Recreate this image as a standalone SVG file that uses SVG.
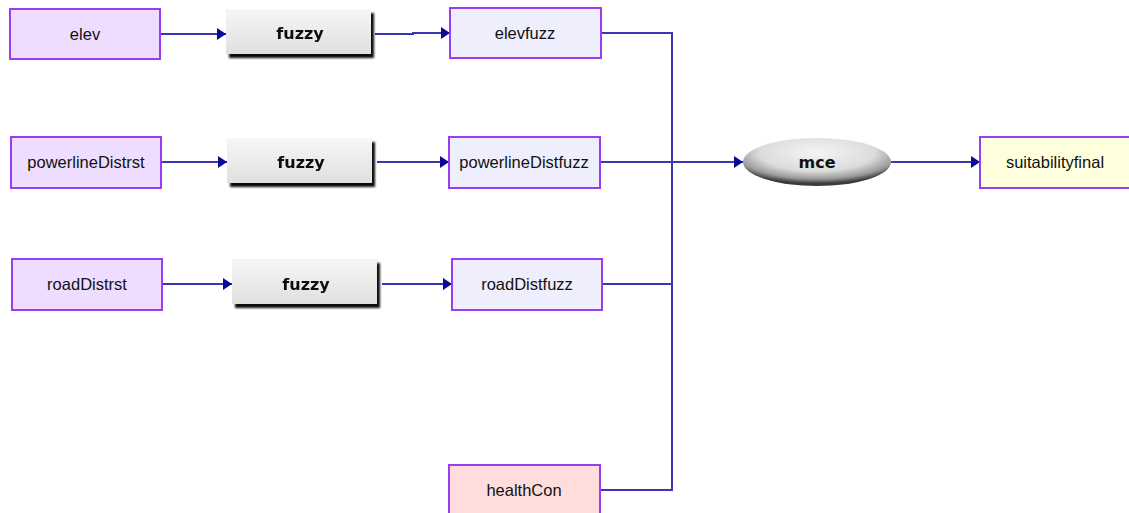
<svg xmlns="http://www.w3.org/2000/svg" width="1129" height="513" viewBox="0 0 1129 513">
  <style>
    .raster { stroke: #9a3cf0; stroke-width: 2; }
    .input { fill: #eeddff; }
    .derived { fill: #eeeefc; }
    .health { fill: #ffdddd; }
    .final { fill: #ffffdd; }
    .label { font-family: "Liberation Sans", Arial, sans-serif; font-size: 16.5px; fill: #111; text-anchor: middle; dominant-baseline: central; }
    .tool { font-family: "DejaVu Sans", "Liberation Sans", sans-serif; font-weight: bold; font-size: 16px; fill: #111; text-anchor: middle; dominant-baseline: central; }
    .wire { fill: none; stroke: #3a36b4; stroke-width: 2; }
  </style>
  <defs>
    <marker id="arrow" markerUnits="userSpaceOnUse" markerWidth="10" markerHeight="12" viewBox="0 0 10 12" refX="9" refY="6" orient="auto">
      <path d="M0,0 L9,6 L0,12 Z" fill="#0a0a96"/>
    </marker>
    <linearGradient id="btnFace" x1="0" y1="0" x2="0" y2="1">
      <stop offset="0" stop-color="#f6f6f6"/>
      <stop offset="1" stop-color="#e0e0e0"/>
    </linearGradient>
    <filter id="btnShadow" x="-10%" y="-20%" width="130%" height="160%">
      <feGaussianBlur in="SourceAlpha" stdDeviation="1.3"/>
      <feOffset dx="3" dy="4" result="off"/>
      <feComponentTransfer><feFuncA type="linear" slope="0.95"/></feComponentTransfer>
      <feMerge><feMergeNode/><feMergeNode in="SourceGraphic"/></feMerge>
    </filter>
    <radialGradient id="ovalFace" cx="0.5" cy="0.3" r="0.65">
      <stop offset="0" stop-color="#f4f4f4"/>
      <stop offset="0.6" stop-color="#dcdcdc"/>
      <stop offset="0.85" stop-color="#9a9a9a"/>
      <stop offset="1" stop-color="#3a3a3a"/>
    </radialGradient>
  </defs>

  <g id="connectors">
    <path class="wire" d="M160,34 H226" marker-end="url(#arrow)"/>
    <path class="wire" d="M375,34 H413 V33 H450" marker-end="url(#arrow)"/>
    <path class="wire" d="M161,162 H227" marker-end="url(#arrow)"/>
    <path class="wire" d="M377,162 H449" marker-end="url(#arrow)"/>
    <path class="wire" d="M162,284 H232" marker-end="url(#arrow)"/>
    <path class="wire" d="M382,284 H452" marker-end="url(#arrow)"/>
    <path class="wire" d="M601,33 H672 V490 H600"/>
    <path class="wire" d="M600,162 H672"/>
    <path class="wire" d="M602,284 H672"/>
    <path class="wire" d="M672,162 H743" marker-end="url(#arrow)"/>
    <path class="wire" d="M891,162 H980" marker-end="url(#arrow)"/>
  </g>

  <g id="elev">
    <rect class="raster input" x="10" y="9" width="150" height="50"/>
    <text class="label" x="85" y="34">elev</text>
  </g>
  <g id="fuzzy1" filter="url(#btnShadow)">
    <rect x="226" y="9" width="145" height="45" fill="url(#btnFace)"/>
    <text class="tool" x="300" y="33">fuzzy</text>
  </g>
  <g id="elevfuzz">
    <rect class="raster derived" x="450" y="8" width="151" height="50"/>
    <text class="label" x="525" y="33">elevfuzz</text>
  </g>

  <g id="powerlineDistrst">
    <rect class="raster input" x="11" y="137" width="150" height="51"/>
    <text class="label" x="86" y="162">powerlineDistrst</text>
  </g>
  <g id="fuzzy2" filter="url(#btnShadow)">
    <rect x="227" y="138" width="145" height="45" fill="url(#btnFace)"/>
    <text class="tool" x="301" y="162">fuzzy</text>
  </g>
  <g id="powerlineDistfuzz">
    <rect class="raster derived" x="449" y="137" width="151" height="51"/>
    <text class="label" x="524" y="162">powerlineDistfuzz</text>
  </g>

  <g id="roadDistrst">
    <rect class="raster input" x="12" y="259" width="150" height="51"/>
    <text class="label" x="87" y="284">roadDistrst</text>
  </g>
  <g id="fuzzy3" filter="url(#btnShadow)">
    <rect x="232" y="259" width="145" height="45" fill="url(#btnFace)"/>
    <text class="tool" x="306" y="284">fuzzy</text>
  </g>
  <g id="roadDistfuzz">
    <rect class="raster derived" x="452" y="259" width="150" height="51"/>
    <text class="label" x="527" y="284">roadDistfuzz</text>
  </g>

  <g id="healthCon">
    <rect class="raster health" x="449" y="465" width="151" height="52"/>
    <text class="label" x="524" y="490">healthCon</text>
  </g>

  <g id="mce">
    <ellipse cx="817" cy="162" rx="74" ry="24" fill="url(#ovalFace)"/>
    <text class="tool" x="817" y="162">mce</text>
  </g>

  <g id="suitabilityfinal">
    <rect class="raster final" x="980" y="137" width="152" height="51"/>
    <text class="label" x="1055" y="162">suitabilityfinal</text>
  </g>
</svg>
